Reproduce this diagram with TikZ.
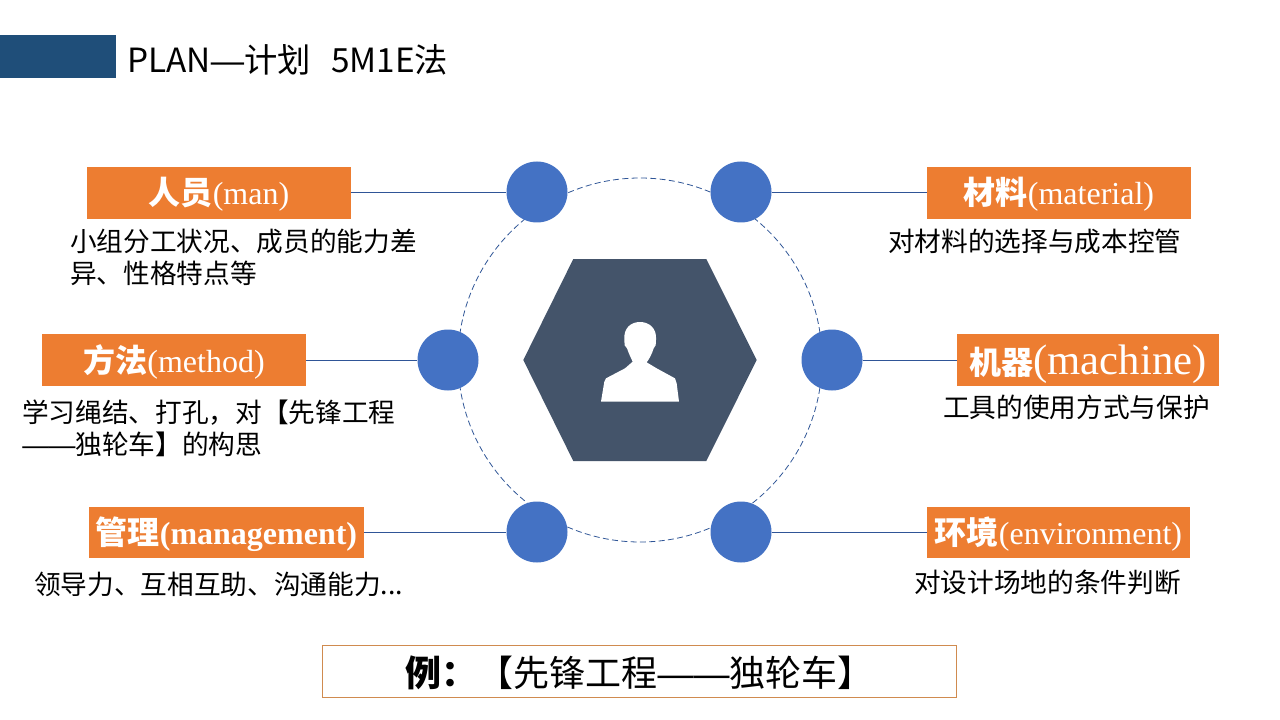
\documentclass[tikz,border=0pt]{standalone}
\usepackage{fontspec}
\setmainfont{Liberation Serif}
\newfontfamily\cjk{Noto Sans CJK SC}
\newfontfamily\dashf{Liberation Sans}
\definecolor{orangebox}{HTML}{ED7D31}
\definecolor{bluedot}{HTML}{4472C4}
\definecolor{linkblue}{HTML}{2F5597}
\definecolor{hexslate}{HTML}{44546A}
\definecolor{headblue}{HTML}{1F4E79}
\definecolor{framebrown}{HTML}{D08B4F}
\tikzset{
  labelbox/.style={fill=orangebox,text=white,inner sep=0pt,minimum height=39pt,anchor=center},
  dot/.style={circle,fill=bluedot,minimum size=45.75pt,inner sep=0pt},
  link/.style={draw=linkblue,line width=0.6pt},
  bodytext/.style={anchor=north west,inner sep=0pt,align=left,font=\cjk\fontsize{20}{24}\selectfont,text=black},
}
\newcommand{\cn}[1]{{\cjk\bfseries\fontsize{24}{24}\selectfont #1}}
\newcommand{\dn}[2]{\raisebox{-#1}[\height][\depth]{#2}}
\begin{document}
\begin{tikzpicture}[x=0.75pt,y=-0.75pt]
\useasboundingbox (0,0) rectangle (1280,720);
\fill[white] (0,0) rectangle (1280,720);
% header
\fill[headblue] (0,35) rectangle (116,78);
\node[anchor=west,inner sep=0pt,font=\cjk\fontsize{25}{28}\selectfont] (title) at (127,60) {PLAN{\dashf —}计划\ \ \hspace{4pt}5M1E法};
% ring
\draw[linkblue,line width=0.6pt,dash pattern=on 4.5pt off 2.5pt] (640,360) circle[radius=182];
% hexagon
\fill[hexslate] (523.3,360) -- (573.3,259) -- (706.3,259) -- (756.7,360) -- (706.3,461) -- (573.3,461) -- cycle;
% person icon
\begin{scope}[shift={(500,240)},x=0.25pt,y=-0.25pt]
\fill[white] (303,485) -- (313,425) -- (318,415) -- (375,385) -- (398,365) .. controls (392,352) and (386,340) .. (381,325)
 -- (374,316) -- (373,300) .. controls (370,265) and (392,246) .. (420,246) .. controls (448,246) and (471,265) .. (468,300)
 -- (467,316) -- (461,325) .. controls (456,340) and (450,354) .. (440,367) -- (470,385) -- (525,415) -- (530,430) -- (537,485) -- cycle;
\end{scope}
% dots
\node[dot] (d1) at (537,192) {};
\node[dot] (d2) at (741,192) {};
\node[dot] (d3) at (448,360) {};
\node[dot] (d4) at (832,360) {};
\node[dot] (d5) at (537,532) {};
\node[dot] (d6) at (741,532) {};
% label boxes
\node[labelbox,minimum width=198pt] (b1) at (219,193) {\dn{1.2pt}{\cn{人员}\fontsize{24}{24}\selectfont (man)}};
\node[labelbox,minimum width=198pt] (b2) at (1059,193) {\dn{1.2pt}{\cn{材料}\fontsize{24}{24}\selectfont (material)}};
\node[labelbox,minimum width=198pt] (b3) at (174,360) {\dn{1.2pt}{\cn{方法}\fontsize{24}{24}\selectfont (method)}};
\node[labelbox,minimum width=196.5pt] (b4) at (1088,360) {\dn{3.5pt}{\cn{机器}\fontsize{32}{32}\selectfont (machine)}};
\node[labelbox,minimum width=206pt,minimum height=38.5pt] (b5) at (226.5,532.5) {\dn{1pt}{\cn{管理}\fontsize{24}{24}\selectfont\bfseries (management)}};
\node[labelbox,minimum width=197.5pt,minimum height=38.5pt] (b6) at (1058.5,532.5) {\dn{1pt}{\cn{环境}\fontsize{24}{24}\selectfont (environment)}};
% connectors
\draw[link] (b1.east |- d1) -- (d1);
\draw[link] (d2) -- (b2.west |- d2);
\draw[link] (b3.east |- d3) -- (d3);
\draw[link] (d4) -- (b4.west |- d4);
\draw[link] (b5.east |- d5) -- (d5);
\draw[link] (d6) -- (b6.west |- d6);
% body texts
\node[bodytext] (t1) at (70,229) {小组分工状况、成员的能力差\\异、性格特点等};
\node[bodytext] (t2) at (888,229) {对材料的选择与成本控管};
\node[bodytext] (t3) at (22,400) {学习绳结、打孔，对【先锋工程\\{\dashf ——}独轮车】的构思};
\node[bodytext] (t4) at (943,395) {工具的使用方式与保护};
\node[bodytext] (t5) at (34,572) {领导力、互相互助、沟通能力...};
\node[bodytext] (t6) at (914,570) {对设计场地的条件判断};
% example box
\node[draw=framebrown,line width=0.6pt,minimum width=476pt,minimum height=39pt,inner sep=0pt,font=\cjk\fontsize{27}{30}\selectfont] (ex) at (639.5,671) {\dn{1.5pt}{\textbf{例：}【先锋工程{\dashf ——}独轮车】}};
\end{tikzpicture}
\end{document}
